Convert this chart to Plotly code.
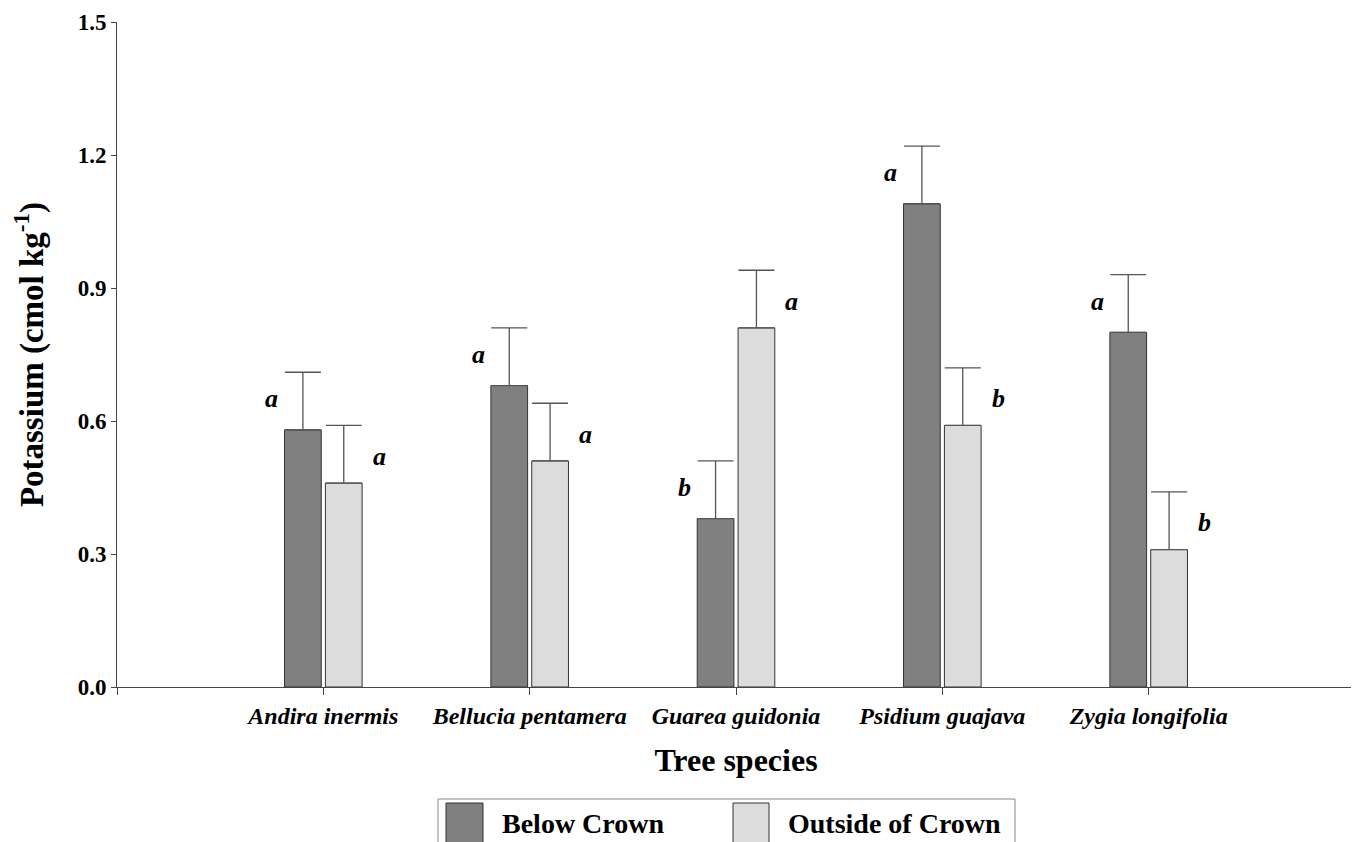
import plotly.graph_objects as go

species = ["Andira inermis", "Bellucia pentamera", "Guarea guidonia", "Psidium guajava", "Zygia longifolia"]
below_crown = [0.58, 0.68, 0.38, 1.09, 0.80]
below_err = [0.13, 0.13, 0.13, 0.13, 0.13]
outside_crown = [0.46, 0.51, 0.81, 0.59, 0.31]
outside_err = [0.13, 0.13, 0.13, 0.13, 0.13]
below_letters = ["a", "a", "b", "a", "a"]
outside_letters = ["a", "a", "a", "b", "b"]
y_ticks = [0.0, 0.3, 0.6, 0.9, 1.2, 1.5]

FONT = "Liberation Serif"
DARK = "#808080"
LIGHT = "#dcdcdc"
xs = list(range(len(species)))

fig = go.Figure()
fig.add_trace(go.Bar(
    x=xs, y=below_crown, name="Below Crown", width=0.178, offset=-0.188,
    marker=dict(color=DARK, line=dict(color="#333333", width=1)),
    error_y=dict(type="data", array=below_err, symmetric=False, arrayminus=[0]*5,
                 color="#555555", thickness=1.3, width=18),
    showlegend=False,
))
fig.add_trace(go.Bar(
    x=xs, y=outside_crown, name="Outside of Crown", width=0.178, offset=0.010,
    marker=dict(color=LIGHT, line=dict(color="#333333", width=1)),
    error_y=dict(type="data", array=outside_err, symmetric=False, arrayminus=[0]*5,
                 color="#555555", thickness=1.3, width=18),
    showlegend=False,
))

annotations = []
for i in xs:
    annotations.append(dict(x=i - 0.25, y=below_crown[i] + below_err[i] - 0.06, xref="x", yref="y",
                            text=f"<b><i>{below_letters[i]}</i></b>", showarrow=False,
                            yanchor="middle", font=dict(family=FONT, size=26, color="black")))
    annotations.append(dict(x=i + 0.27, y=outside_crown[i] + outside_err[i] - 0.07, xref="x", yref="y",
                            text=f"<b><i>{outside_letters[i]}</i></b>", showarrow=False,
                            yanchor="middle", font=dict(family=FONT, size=26, color="black")))

# custom legend (positions in screen pixels converted to paper fractions)
def px_x(p):
    return (p - 117) / 1238.0

def px_y(p):
    return (687 - p) / 665.0

shapes = [
    dict(type="rect", xref="paper", yref="paper", x0=px_x(438), x1=px_x(1015), y0=px_y(860), y1=px_y(799),
         line=dict(color="#888888", width=1), fillcolor="white", layer="below"),
    dict(type="rect", xref="paper", yref="paper", x0=px_x(446), x1=px_x(483), y0=px_y(860), y1=px_y(803),
         line=dict(color="#333333", width=1), fillcolor=DARK),
    dict(type="rect", xref="paper", yref="paper", x0=px_x(733), x1=px_x(769), y0=px_y(860), y1=px_y(803),
         line=dict(color="#333333", width=1), fillcolor=LIGHT),
]
annotations.append(dict(x=px_x(500), y=px_y(824), xref="paper", yref="paper", xanchor="left", yanchor="middle",
                        text="<b>Below Crown</b>", showarrow=False, font=dict(family=FONT, size=28, color="black")))
annotations.append(dict(x=px_x(786), y=px_y(824), xref="paper", yref="paper", xanchor="left", yanchor="middle",
                        text="<b>Outside of Crown</b>", showarrow=False, font=dict(family=FONT, size=28, color="black")))

fig.update_layout(
    width=1351, height=834,
    margin=dict(l=109, r=4, t=14, b=155),
    paper_bgcolor="white", plot_bgcolor="white",
    barmode="overlay",
    font=dict(family=FONT, color="black"),
    annotations=annotations,
    shapes=shapes,
    xaxis=dict(
        range=[-1, 5], tickvals=xs, ticktext=species,
        tickfont=dict(family=FONT, size=24, color="black", weight="bold", style="italic"),
        ticks="outside", ticklen=7, tickcolor="#444444", showline=True, linecolor="#444444", linewidth=1,
        minor=dict(tick0=-1, dtick=1, ticks="outside", ticklen=7, tickcolor="#444444", showgrid=False),
        showgrid=False, zeroline=False, automargin=False,
        title=dict(text="<b>Tree species</b>", font=dict(family=FONT, size=32, color="black"), standoff=20),
    ),
    yaxis=dict(
        range=[0, 1.5], tickvals=y_ticks, ticktext=[f"{v:.1f}" for v in y_ticks],
        tickfont=dict(family=FONT, size=23, color="black", weight="bold"),
        ticks="outside", ticklen=5, tickcolor="#444444", showline=True, linecolor="#444444", linewidth=1,
        showgrid=False, zeroline=False, automargin=False,
        title=dict(text="<b>Potassium (cmol kg<sup>-1</sup>)</b>", font=dict(family=FONT, size=33, color="black"), standoff=30),
    ),
)

fig.write_html("out.html")
